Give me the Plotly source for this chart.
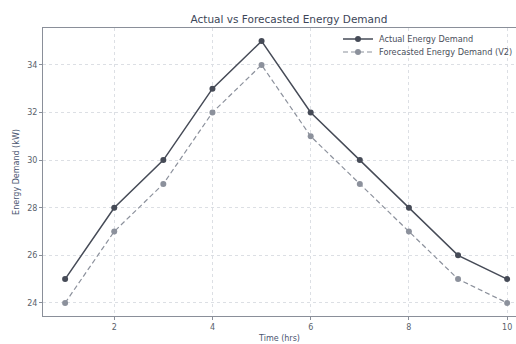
import plotly.graph_objects as go

hours = [1, 2, 3, 4, 5, 6, 7, 8, 9, 10]
actual = [25, 28, 30, 33, 35, 32, 30, 28, 26, 25]
forecast = [24, 27, 29, 32, 34, 31, 29, 27, 25, 24]
x_ticks = [2, 4, 6, 8, 10]
y_ticks = [24, 26, 28, 30, 32, 34]
series_names = ["Actual Energy Demand", "Forecasted Energy Demand (V2)"]

fig = go.Figure()
fig.add_trace(go.Scatter(
    x=hours, y=actual, mode="lines+markers", name=" ",
    line=dict(color="#464b57", width=1.5),
    marker=dict(color="#464b57", size=6),
    legend="legend",
))
fig.add_trace(go.Scatter(
    x=hours, y=forecast, mode="lines+markers", name=" ",
    line=dict(color="#8c919c", width=1.2, dash="5px,3px"),
    marker=dict(color="#8c919c", size=6),
    legend="legend2",
))

axis_common = dict(
    showgrid=True, gridcolor="#dcdfe4", griddash="dot", gridwidth=1,
    showline=True, linecolor="#8a8f99", linewidth=1, mirror=True,
    ticks="outside", ticklen=3, tickcolor="#8a8f99",
    tickfont=dict(family="DejaVu Sans", size=8, color="#5a5f6b"),
    zeroline=False, automargin=False,
)

legend_common = dict(
    xanchor="left", yanchor="middle", bgcolor="rgba(0,0,0,0)",
    font=dict(family="DejaVu Sans", size=8, color="#4a4f5b"),
    itemwidth=30, borderwidth=0,
)

plot_w = 516 - 43
plot_h = 344 - 28 - 28
legend_x = (338 - 43) / plot_w
text_x = (377 - 43) / plot_w
row_y = [1 - 11 / plot_h, 1 - 24 / plot_h]

for name, yy in zip(series_names, row_y):
    fig.add_annotation(
        text=name, xref="paper", yref="paper", x=text_x, y=yy,
        xanchor="left", yanchor="middle", showarrow=False,
        font=dict(family="DejaVu Sans", size=8.2, color="#4a4f5b"),
    )

fig.update_layout(
    width=516, height=344,
    margin=dict(l=43, r=0, t=28, b=28),
    paper_bgcolor="white", plot_bgcolor="white",
    title=dict(text="Actual vs Forecasted Energy Demand", x=0.56, xanchor="center",
               y=1 - 19 / 344, yanchor="middle",
               font=dict(family="DejaVu Sans", size=10.5, color="#3c4658")),
    xaxis=dict(range=[0.55, 10.18], tickvals=x_ticks,
               title=dict(text="Time (hrs)", standoff=4,
                          font=dict(family="DejaVu Sans", size=8, color="#4a5570")),
               **axis_common),
    yaxis=dict(range=[23.45, 35.55], tickvals=y_ticks,
               title=dict(text="Energy Demand (kW)", standoff=6,
                          font=dict(family="DejaVu Sans", size=8, color="#4a5570")),
               **axis_common),
    legend=dict(x=legend_x, y=row_y[0], **legend_common),
    legend2=dict(x=legend_x, y=row_y[1], **legend_common),
    showlegend=True,
)

fig.write_html("out.html")
